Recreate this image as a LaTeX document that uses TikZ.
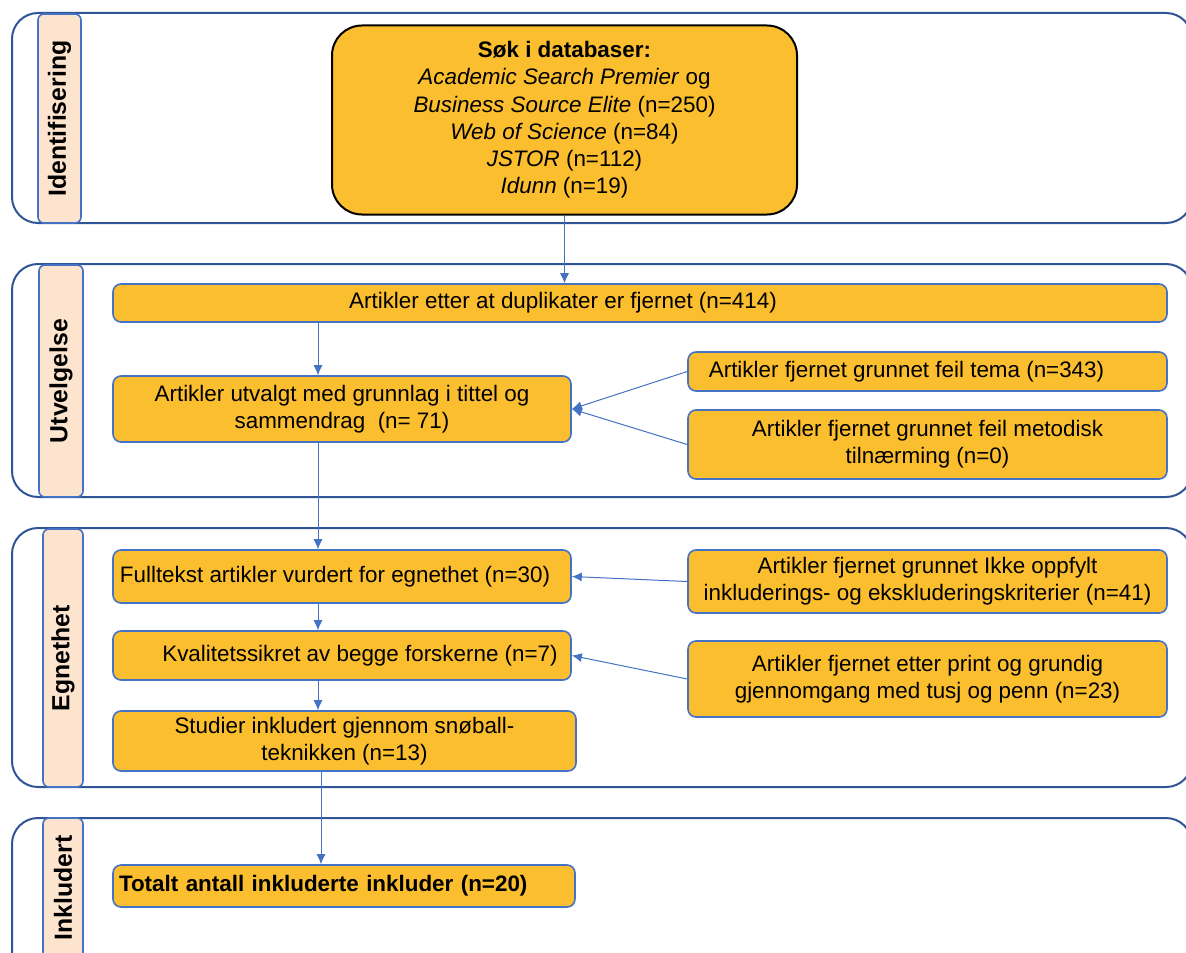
\documentclass[tikz,border=0pt]{standalone}
\usepackage{fontspec}
\setmainfont{Liberation Sans}
\usepackage{tikz}
\definecolor{gold}{HTML}{FBBE2E}
\definecolor{edgeblue}{HTML}{4472C4}
\definecolor{laneblue}{HTML}{2F5597}
\definecolor{peach}{HTML}{FCE4CF}
\tikzstyle{box}=[draw=edgeblue, line width=0.8pt, fill=gold, rounded corners=4pt, align=center, inner sep=2pt]
\tikzstyle{lane}=[draw=laneblue, line width=1pt, rounded corners=13pt]
\tikzstyle{phase}=[draw=edgeblue, line width=0.8pt, fill=peach, rounded corners=3pt, rotate=90, font=\fontsize{12.4}{14}\selectfont\bfseries, inner sep=0pt]
\tikzstyle{arrow}=[color=edgeblue, line width=0.5pt, ->]
\usetikzlibrary{arrows.meta,positioning,calc}

\begin{document}
\begin{tikzpicture}[x=0.5pt,y=-0.5pt,>={Latex[length=5pt,width=4.5pt]},font=\fontsize{11.2}{13.6}\selectfont]
    \useasboundingbox (0,0) rectangle (1186,952);
    % swimlanes
    \draw[lane] (12,13) rectangle (1192,223);
    \draw[lane] (12,264) rectangle (1192,497);
    \draw[lane] (12,528) rectangle (1192,787);
    \draw[lane] (12,818) rectangle (1192,990);
    \node [phase, minimum width=104.5pt, minimum height=21.5pt] (ident) at (59.5,118.5) {Identifisering};
    \node [phase, minimum width=116pt, minimum height=22pt] (utv) at (61,381) {Utvelgelse};
    \node [phase, minimum width=129pt, minimum height=20pt] (egn) at (63,658) {Egnethet};
    \node [phase, minimum width=70pt, minimum height=20pt] (inkl) at (63,888) {Inkludert};
    % boxes
    \node [box, draw=black, line width=1pt, rounded corners=15pt, minimum width=232.5pt, minimum height=94.5pt] (sok) at (564.5,120)
        {\textbf{Søk i databaser:}\\ \textit{Academic Search Premier} og\\ \textit{Business Source Elite} (n=250)\\ \textit{Web of Science} (n=84)\\ \textit{JSTOR} (n=112)\\ \textit{Idunn} (n=19)};
    \node [box, minimum width=527pt, minimum height=19pt] (dup) at (640,303) {Artikler etter at duplikater er fjernet (n=414)\hspace*{77pt}};
    \node [box, minimum width=229pt, minimum height=33pt] (sel) at (342,409) {Artikler utvalgt med grunnlag i tittel og\\ sammendrag\ \ (n= 71)};
    \node [box, minimum width=239.5pt, minimum height=19.5pt] (tema) at (927.5,371.5) {Artikler fjernet grunnet feil tema (n=343)\hspace*{21pt}};
    \node [box, minimum width=239.5pt, minimum height=34.5pt] (metode) at (927.5,444.5) {Artikler fjernet grunnet feil metodisk\\ tilnærming (n=0)};
    \node [box, minimum width=229pt, minimum height=26.5pt] (full) at (342,576.5) {Fulltekst artikler vurdert for egnethet (n=30)\hspace*{7pt}};
    \node [box, minimum width=229pt, minimum height=24.5pt] (kval) at (342,655.5) {\hspace*{18pt}Kvalitetssikret av begge forskerne (n=7)};
    \node [box, minimum width=231.5pt, minimum height=30pt] (snob) at (344.5,741) {Studier inkludert gjennom snøball-\\ teknikken (n=13)};
    \node [box, minimum width=239.5pt, minimum height=31.5pt] (ikke) at (927.5,581.5) {Artikler fjernet grunnet Ikke oppfylt\\ inkluderings- og ekskluderingskriterier (n=41)};
    \node [box, minimum width=239.5pt, minimum height=38pt] (penn) at (927.5,679) {Artikler fjernet etter print og grundig\\ gjennomgang med tusj og penn (n=23)};
    \node [box, minimum width=231pt, minimum height=21pt, text width=225pt, align=left, font=\fontsize{11.2}{13.6}\selectfont\bfseries] (tot) at (344,886) {Totalt antall inkluderte inkluder (n=20)};
    % connectors
    \coordinate (spine) at (318,0);
    \coordinate (spine2) at (321,0);
    \path[arrow]
        (sok.south) edge (sok.south |- dup.north)
        (dup.south -| spine) edge (sel.north -| spine)
        (sel.south -| spine) edge (full.north -| spine)
        (full.south -| spine) edge (kval.north -| spine)
        (kval.south -| spine) edge (snob.north -| spine)
        (snob.south -| spine2) edge (tot.north -| spine2)
        (tema.west) edge (sel.east)
        (metode.west) edge (sel.east)
        (ikke.west) edge (full.east)
        (penn.west) edge (kval.east);
\end{tikzpicture}
\end{document}
